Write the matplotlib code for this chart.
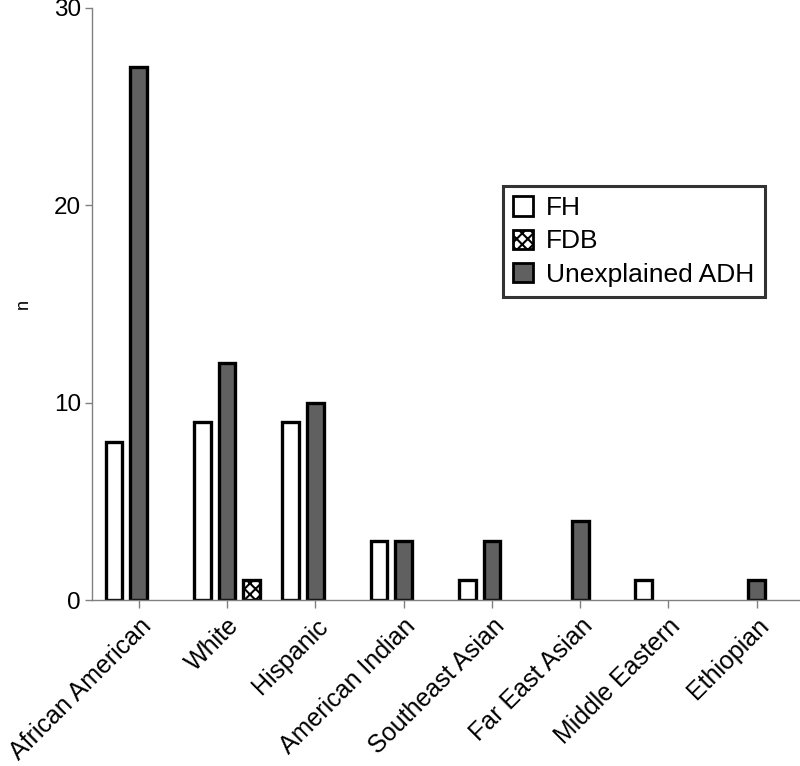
import numpy as np
import matplotlib
matplotlib.use("Agg")
import matplotlib.pyplot as plt
from matplotlib.patches import Patch

plt.rcParams['font.family'] = ['Liberation Sans', 'DejaVu Sans']
plt.rcParams['hatch.linewidth'] = 1.5

groups = ["African American", "White", "Hispanic", "American Indian",
          "Southeast Asian", "Far East Asian", "Middle Eastern", "Ethiopian"]
fh = np.array([8, 9, 9, 3, 1, 0, 1, 0])
fdb = np.array([0, 1, 0, 0, 0, 0, 0, 0])
adh = np.array([27, 12, 10, 3, 3, 4, 0, 1])

x = np.arange(len(groups))
w = 0.19
off = 0.28
dark = '#606060'
lw = 2.4

fig = plt.figure(figsize=(8, 7.66), dpi=100)
ax = fig.add_axes([0.115, 0.2167, 0.885, 0.7729])

m = fh > 0
ax.bar(x[m] - off, fh[m], width=w, color='white', edgecolor='black', linewidth=lw)
m = adh > 0
ax.bar(x[m], adh[m], width=w, color=dark, edgecolor='black', linewidth=lw)
m = fdb > 0
ax.bar(x[m] + off, fdb[m], width=w, color='white', edgecolor='black',
       linewidth=lw, hatch='xxx')

ax.set_xlim(-0.53, 7.49)
ax.set_ylim(0, 30)
ax.set_yticks([0, 10, 20, 30])
ax.set_xticks(x)
ax.set_xticklabels(groups, rotation=45, ha='right', rotation_mode='anchor', fontsize=18)
ax.tick_params(axis='y', labelsize=17.5, color='#808080', length=5, width=1, pad=3)
ax.tick_params(axis='x', color='#808080', length=6, width=1, pad=4)
ax.set_ylabel("n", fontsize=13)
ax.yaxis.set_label_coords(-0.085, 0.5)

for s in ['top', 'right']:
    ax.spines[s].set_visible(False)
for s in ['left', 'bottom']:
    ax.spines[s].set_color('#808080')
    ax.spines[s].set_linewidth(1)

handles = [Patch(facecolor='white', edgecolor='black', linewidth=2, label='FH'),
           Patch(facecolor='white', edgecolor='black', linewidth=2, hatch='xxx', label='FDB'),
           Patch(facecolor=dark, edgecolor='black', linewidth=2, label='Unexplained ADH')]
leg = ax.legend(handles=handles, loc='upper left', bbox_to_anchor=(0.58, 0.70),
                fontsize=19, frameon=True, fancybox=False, handlelength=0.75,
                handleheight=0.75, handletextpad=0.5, labelspacing=0.35,
                borderpad=0.4, borderaxespad=0)
leg.get_frame().set_edgecolor('black')
leg.get_frame().set_linewidth(2.2)

fig.savefig("out.png", dpi=100)
